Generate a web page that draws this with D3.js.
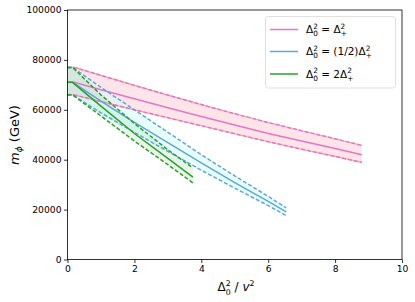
<!DOCTYPE html>
<html><head><meta charset="utf-8">
<script src="https://cdn.jsdelivr.net/npm/d3@7"></script>
<style>body{margin:0;background:#fff}svg{display:block;font-family:"DejaVu Sans",sans-serif}</style>
</head><body><svg id="c" width="415" height="302"></svg>
<script>
// ---- data ----
const xTicks = [0, 2, 4, 6, 8, 10];
const yTicks = [0, 20000, 40000, 60000, 80000, 100000];
const pinkX   = [0, 0.2, 1, 2, 3, 4, 5, 6, 7, 8, 8.8];
const pinkUp  = [77000, 77000, 73800, 69800, 65900, 62100, 58400, 54900, 51600, 48400, 45700];
const pinkMid = [71000, 71000, 68000, 64400, 60800, 57300, 53900, 50500, 47500, 44500, 42000];
const pinkLo  = [66000, 66000, 63300, 60000, 56800, 53600, 50400, 47200, 44200, 41300, 38900];
const blueX   = [0, 0.15, 1, 2, 3, 4, 5, 6, 6.54];
const blueUp  = [77000, 77000, 69000, 60000, 51000, 42000, 33500, 25300, 20700];
const blueMid = [71000, 71000, 63500, 55000, 46800, 38700, 30800, 23300, 19100];
const blueLo  = [66000, 66000, 58800, 51000, 43300, 35800, 28600, 21600, 17600];
const greenX   = [0, 0.15, 1, 2, 3, 3.75];
const greenUp  = [77000, 77000, 66000, 54500, 44000, 36700];
const greenMid = [71000, 71000, 61500, 50500, 40500, 33000];
const greenLo  = [66000, 66000, 57500, 47500, 38000, 30700];
const legendLabels = [["Δ","2","0"," = ","Δ","2","+"],["Δ","2","0"," = (1/2)","Δ","2","+"],["Δ","2","0"," = 2","Δ","2","+"]];

const svg = d3.select("#c");
const L = 67.5, R = 402, T = 10, B = 259.5;
const x = d3.scaleLinear().domain([0, 10]).range([L, R]);
const y = d3.scaleLinear().domain([0, 100000]).range([B, T]);

const series = [
  {xs: pinkX, up: pinkUp, mid: pinkMid, lo: pinkLo, col: "#e377c2", edge: "#f5a8b0", fill: "rgba(255,150,170,0.26)"},
  {xs: blueX, up: blueUp, mid: blueMid, lo: blueLo, col: "#5fa6d6", edge: null, fill: "rgba(205,255,255,0.45)"},
  {xs: greenX, up: greenUp, mid: greenMid, lo: greenLo, col: "#2ca02c", edge: null, fill: "rgba(44,160,44,0.10)"}
];
const line = d3.line().x(d => x(d[0])).y(d => y(d[1]));
const area = d3.area().x(d => x(d[0])).y0(d => y(d[1])).y1(d => y(d[2]));
const plot = svg.append("g");
series.forEach(s => {
  plot.append("path").attr("d", area(s.xs.map((v, i) => [v, s.lo[i], s.up[i]]))).attr("fill", s.fill);
});
series.forEach(s => {
  [s.up, s.lo].forEach(arr => {
    const pts = s.xs.map((v, i) => [v, arr[i]]);
    if (s.edge) plot.append("path").attr("d", line(pts)).attr("fill", "none")
      .attr("stroke", s.edge).attr("stroke-width", 1.2);
    plot.append("path").attr("d", line(pts)).attr("fill", "none")
      .attr("stroke", s.col).attr("stroke-width", 1.5).attr("stroke-dasharray", "4,2");
  });
  plot.append("path").attr("d", line(s.xs.map((v, i) => [v, s.mid[i]]))).attr("fill", "none")
    .attr("stroke", s.col).attr("stroke-width", 1.5);
});

// axes
const fs = 9.2;
const xa = svg.append("g").attr("transform", `translate(0,${B})`)
  .call(d3.axisBottom(x).tickValues(xTicks).tickSize(3.5).tickPadding(2.5).tickFormat(d3.format("d")));
const ya = svg.append("g").attr("transform", `translate(${L},0)`)
  .call(d3.axisLeft(y).tickValues(yTicks).tickSize(3.5).tickPadding(2.5).tickFormat(d3.format("d")));
[xa, ya].forEach(a => {
  a.select(".domain").remove();
  a.selectAll("text").attr("font-size", fs).attr("font-family", "DejaVu Sans").attr("fill", "#000");
  a.selectAll("line").attr("stroke", "#000").attr("stroke-width", 0.8);
});
svg.append("rect").attr("x", L).attr("y", T).attr("width", R - L).attr("height", B - T)
  .attr("fill", "none").attr("stroke", "#000").attr("stroke-width", 0.8);

// axis labels
const xl = svg.append("text").attr("x", 236).attr("y", 291).attr("text-anchor", "middle").attr("font-size", 12);
xl.append("tspan").text("Δ");
xl.append("tspan").attr("font-size", 7.8).attr("dy", -5.5).text("2");
xl.append("tspan").attr("font-size", 7.8).attr("dx", -5).attr("dy", 9).text("0");
xl.append("tspan").attr("dy", -3.5).text(" / ");
xl.append("tspan").attr("font-style", "italic").text("v");
xl.append("tspan").attr("font-size", 7.8).attr("dy", -5).text("2");

const yl = svg.append("text").attr("transform", "translate(19,135) rotate(-90)").attr("text-anchor", "middle").attr("font-size", 13);
yl.append("tspan").attr("font-style", "italic").text("m");
yl.append("tspan").attr("font-style", "italic").attr("font-size", 9).attr("dy", 3).text("ϕ");
yl.append("tspan").attr("dy", -3).text(" (GeV)");

// legend
const lg = svg.append("g");
lg.append("rect").attr("x", 265.5).attr("y", 16.5).attr("width", 130).attr("height", 71.5).attr("rx", 2.5)
  .attr("fill", "rgba(255,255,255,0.8)").attr("stroke", "#d8d8d8").attr("stroke-width", 0.8);
const rowsY = [29.5, 51.5, 74];
legendLabels.forEach((lab, i) => {
  const yy = rowsY[i];
  lg.append("line").attr("x1", 270).attr("x2", 298).attr("y1", yy).attr("y2", yy)
    .attr("stroke", series[i].col).attr("stroke-width", 1.5);
  const t = lg.append("text").attr("x", 306).attr("y", yy + 3.8).attr("font-size", 10.5);
  t.append("tspan").text(lab[0]);
  t.append("tspan").attr("font-size", 7.3).attr("dy", -4.5).text(lab[1]);
  t.append("tspan").attr("font-size", 7.3).attr("dx", -4.6).attr("dy", 7.6).text(lab[2]);
  t.append("tspan").attr("dy", -3.1).text(lab[3]);
  t.append("tspan").text(lab[4]);
  t.append("tspan").attr("font-size", 7.3).attr("dy", -4.5).text(lab[5]);
  t.append("tspan").attr("font-size", 7.3).attr("dx", -4.6).attr("dy", 7.6).text(lab[6]);
});
</script></body></html>
